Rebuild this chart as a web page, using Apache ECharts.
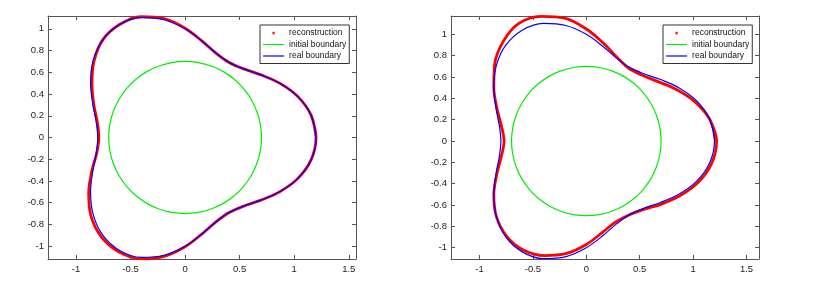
<!DOCTYPE html>
<html>
<head>
<meta charset="utf-8">
<script src="https://cdn.jsdelivr.net/npm/echarts@6/dist/echarts.min.js"></script>
<style>
html,body{margin:0;padding:0;background:#fff;}
#chart{width:814px;height:285px;}
</style>
</head>
<body>
<div id="chart"></div>
<script>
// ---- data ----
const seriesNames = ['reconstruction', 'initial boundary', 'real boundary'];
const xTicks = [-1, -0.5, 0, 0.5, 1, 1.5];
const yTicks = [-1, -0.8, -0.6, -0.4, -0.2, 0, 0.2, 0.4, 0.6, 0.8, 1];

const realBoundary = [
  [1.2000, 0.0000], [1.1554, 0.2037], [1.0337, 0.3762], [0.8660, 0.5000], [0.6894, 0.5785],
  [0.5315, 0.6333], [0.4000, 0.6928], [0.2828, 0.7769], [0.1563, 0.8863], [0.0000, 1.0000],
  [-0.1910, 1.0833], [-0.4013, 1.1025], [-0.6000, 1.0392], [-0.7541, 0.8987], [-0.8426, 0.7071],
  [-0.8660, 0.5000], [-0.8457, 0.3078], [-0.8142, 0.1435], [-0.8000, 0.0000], [-0.8142, -0.1435],
  [-0.8457, -0.3078], [-0.8660, -0.5000], [-0.8426, -0.7071], [-0.7541, -0.8987], [-0.6000, -1.0392],
  [-0.4013, -1.1025], [-0.1910, -1.0833], [0.0000, -1.0000], [0.1563, -0.8863], [0.2828, -0.7769],
  [0.4000, -0.6928], [0.5315, -0.6333], [0.6894, -0.5785], [0.8660, -0.5000], [1.0337, -0.3762],
  [1.1554, -0.2037], [1.2000, 0.0000], [1.1554, 0.2037]
];

const initialBoundary = [
  [0.7000, 0.0000], [0.6894, 0.1216], [0.6578, 0.2394], [0.6062, 0.3500], [0.5362, 0.4500],
  [0.4500, 0.5362], [0.3500, 0.6062], [0.2394, 0.6578], [0.1216, 0.6894], [0.0000, 0.7000],
  [-0.1216, 0.6894], [-0.2394, 0.6578], [-0.3500, 0.6062], [-0.4500, 0.5362], [-0.5362, 0.4500],
  [-0.6062, 0.3500], [-0.6578, 0.2394], [-0.6894, 0.1216], [-0.7000, 0.0000], [-0.6894, -0.1216],
  [-0.6578, -0.2394], [-0.6062, -0.3500], [-0.5362, -0.4500], [-0.4500, -0.5362], [-0.3500, -0.6062],
  [-0.2394, -0.6578], [-0.1216, -0.6894], [0.0000, -0.7000], [0.1216, -0.6894], [0.2394, -0.6578],
  [0.3500, -0.6062], [0.4500, -0.5362], [0.5362, -0.4500], [0.6062, -0.3500], [0.6578, -0.2394],
  [0.6894, -0.1216], [0.7000, 0.0000], [0.6894, 0.1216]
];

const reconLeft = [
  [1.2000, 0.0000], [1.1554, 0.2037], [1.0337, 0.3762], [0.8660, 0.5000], [0.6894, 0.5785],
  [0.5315, 0.6333], [0.4000, 0.6928], [0.2828, 0.7769], [0.1563, 0.8863], [0.0000, 1.0050],
  [-0.1927, 1.0931], [-0.4047, 1.1119], [-0.6000, 1.0392], [-0.7541, 0.8987], [-0.8349, 0.7007],
  [-0.8530, 0.4925], [-0.8363, 0.3044], [-0.8044, 0.1418], [-0.7900, 0.0000], [-0.8093, -0.1427],
  [-0.8551, -0.3112], [-0.8833, -0.5100], [-0.8618, -0.7232], [-0.7670, -0.9140], [-0.6075, -1.0522],
  [-0.4064, -1.1166], [-0.1927, -1.0931], [0.0000, -1.0050], [0.1563, -0.8863], [0.2828, -0.7769],
  [0.4000, -0.6928], [0.5315, -0.6333], [0.6894, -0.5785], [0.8660, -0.5000], [1.0337, -0.3762],
  [1.1554, -0.2037], [1.2000, 0.0000], [1.1554, 0.2037]
];

const reconRight = [
  [1.2200, 0.0000], [1.1554, 0.2037], [1.0149, 0.3694], [0.8400, 0.4850], [0.6664, 0.5592],
  [0.5186, 0.6180], [0.3950, 0.6841], [0.2862, 0.7863], [0.1614, 0.9159], [0.0000, 1.0500],
  [-0.2031, 1.1522], [-0.4252, 1.1682], [-0.6350, 1.0998], [-0.7798, 0.9293], [-0.8579, 0.7199],
  [-0.8660, 0.5000], [-0.8363, 0.3044], [-0.7945, 0.1401], [-0.7700, 0.0000], [-0.7945, -0.1401],
  [-0.8363, -0.3044], [-0.8660, -0.5000], [-0.8426, -0.7071], [-0.7477, -0.8910], [-0.5900, -1.0219],
  [-0.3910, -1.0743], [-0.1858, -1.0537], [0.0000, -0.9700], [0.1510, -0.8568], [0.2759, -0.7581],
  [0.4000, -0.6928], [0.5379, -0.6410], [0.7047, -0.5914], [0.8833, -0.5100], [1.0525, -0.3830],
  [1.1751, -0.2071], [1.2200, 0.0000], [1.1554, 0.2037]
];

// ---- layout / styling ----
const FONT = '"Liberation Sans", Arial, Helvetica, sans-serif';
const AXIS_COLOR = '#555';
const panels = [
  { grid: { left: 48, top: 16, width: 308, height: 243 }, xr: [-1.256, 1.566], yr: [-1.118, 1.118], recon: reconLeft, legendLeft: 260 },
  { grid: { left: 451, top: 16, width: 308, height: 243 }, xr: [-1.267, 1.617], yr: [-1.106, 1.172], recon: reconRight, legendLeft: 663 }
];

const grids = [], xAxes = [], yAxes = [], series = [], legends = [];

function axisCommon(min, max, ticks, showLabel, pos, gridIndex, isX) {
  return {
    type: 'value', gridIndex: gridIndex, position: pos, min: min, max: max,
    splitLine: { show: false },
    axisLine: { show: true, onZero: false, lineStyle: { color: AXIS_COLOR, width: 1 } },
    axisTick: { show: true, inside: true, length: 4, customValues: ticks, lineStyle: { color: AXIS_COLOR, width: 1 } },
    axisLabel: {
      show: showLabel, customValues: ticks, color: '#222', fontSize: 9.5, fontFamily: FONT,
      margin: isX ? 5 : 4,
      formatter: function (v) { return String(Math.round(v * 10) / 10); }
    }
  };
}

panels.forEach(function (p, i) {
  grids.push(Object.assign({ containLabel: false }, p.grid));
  xAxes.push(axisCommon(p.xr[0], p.xr[1], xTicks, true, 'bottom', i, true));
  xAxes.push(axisCommon(p.xr[0], p.xr[1], xTicks, false, 'top', i, true));
  yAxes.push(axisCommon(p.yr[0], p.yr[1], yTicks, true, 'left', i, false));
  yAxes.push(axisCommon(p.yr[0], p.yr[1], yTicks, false, 'right', i, false));
  const xi = i * 2, yi = i * 2;
  // dots used as legend marker for the reconstruction
  series.push({
    type: 'scatter', name: seriesNames[0], xAxisIndex: xi, yAxisIndex: yi,
    data: p.recon, symbol: 'circle', symbolSize: 2, itemStyle: { color: '#ff0000' }, z: 2, silent: true
  });
  series.push({
    type: 'line', name: seriesNames[0], xAxisIndex: xi, yAxisIndex: yi,
    data: p.recon, smooth: 0.35, symbol: 'none', showSymbol: false,
    lineStyle: { color: '#ff0000', width: 2.8 }, itemStyle: { color: '#ff0000' }, z: 2
  });
  series.push({
    type: 'line', name: seriesNames[1], xAxisIndex: xi, yAxisIndex: yi,
    data: initialBoundary, smooth: 0.35, symbol: 'none', showSymbol: false,
    lineStyle: { color: '#00ee00', width: 1.2 }, itemStyle: { color: '#00ee00' }, z: 3
  });
  series.push({
    type: 'line', name: seriesNames[2], xAxisIndex: xi, yAxisIndex: yi,
    data: realBoundary, smooth: 0.35, symbol: 'none', showSymbol: false,
    lineStyle: { color: '#0000ff', width: 1.2 }, itemStyle: { color: '#0000ff' }, z: 4
  });
  legends.push({
    left: p.legendLeft, top: 25, orient: 'vertical',
    data: [
      { name: seriesNames[0] },
      { name: seriesNames[1], itemStyle: { opacity: 0 }, lineStyle: { width: 1.2 } },
      { name: seriesNames[2], itemStyle: { opacity: 0 }, lineStyle: { width: 1.2 } }
    ],
    itemWidth: 21, itemHeight: 3, itemGap: 2.5,
    padding: [3.5, 3, 3, 2.5],
    borderColor: '#333', borderWidth: 1, backgroundColor: '#fff',
    textStyle: { fontSize: 8.5, color: '#111', fontFamily: FONT },
    selectedMode: false
  });
});

const chart = echarts.init(document.getElementById('chart'), null, { renderer: 'canvas' });
chart.setOption({
  animation: false,
  backgroundColor: '#fff',
  grid: grids,
  xAxis: xAxes,
  yAxis: yAxes,
  legend: legends,
  series: series
});
</script>
</body>
</html>
